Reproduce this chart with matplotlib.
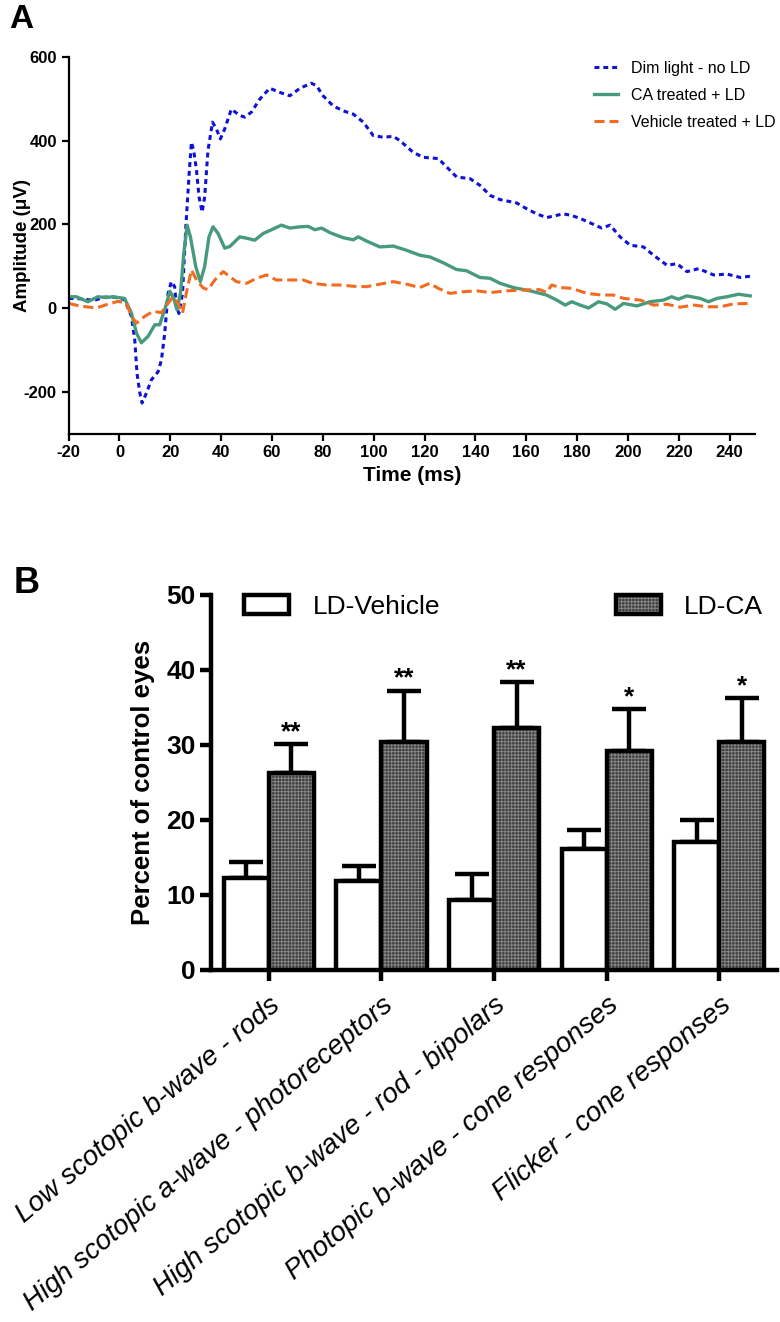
import numpy as np
import matplotlib.pyplot as plt

plt.rcParams['font.family'] = ['Liberation Sans', 'DejaVu Sans']
plt.rcParams['axes.unicode_minus'] = False
plt.rcParams['hatch.linewidth'] = 0.7

# panel A: ERG traces (time in ms, amplitude in uV)
t_dim = [-20, -15, -10, -6, -2, 2, 4.7, 6, 6.9, 8, 8.9, 10.6, 12.6, 15.2, 16.5, 17.8, 19.1, 20.4, 21.7,
         22.4, 23.4, 24.8, 26.1, 27.4, 28.3, 29.2, 30.3, 31.3, 32.5, 33.5, 34.8, 36.6, 38.1, 39.7, 41.4,
         44, 47.3, 49.3, 51.9, 55.2, 59.1, 63.1, 67, 71, 75.5, 77.5, 80.1, 84, 88, 92, 95.9, 99.8, 103.7,
         107.7, 110.3, 115.5, 119.5, 125.4, 128.7, 132.6, 137.9, 141.8, 145.8, 149.7, 156.2, 160.2, 164.1,
         168, 174.6, 177.9, 181.2, 186.4, 189.7, 193, 196.9, 200.9, 206.1, 210.1, 215.4, 219.3, 223.2,
         227.8, 233.7, 239, 244.2, 248.1]
a_dim = [23, 22, 18, 26, 26, 20, -20, -76, -156, -203, -227, -203, -171, -152, -124, -60, 35, 63, 51,
         3, -13, 35, 194, 321, 396, 376, 329, 265, 229, 265, 376, 444, 428, 404, 428,
         475, 460, 456, 468, 499, 525, 515, 507, 525, 537, 531, 507, 483, 471, 463, 444, 412, 408,
         410, 400, 372, 360, 357, 337, 313, 309, 293, 269, 259, 251, 237, 225,
         216, 225, 221, 214, 200, 191, 198, 170, 150, 146, 126, 102, 106, 87,
         94, 79, 81, 73, 76]

t_ca = [-20, -17, -12.4, -8.5, -5.2, -2.6, 2, 4.7, 6.7, 8.6, 11.2, 13.9, 15.8, 18.2, 19.8, 21.3, 22.6,
        24, 25.3, 26.6, 27.9, 30, 31.8, 33.5, 35.2, 36.8, 38.8, 41.4, 43.4, 47.3, 50.6, 53.2, 56.5,
        59.8, 63.7, 67, 71, 74.2, 76.9, 79.5, 82.8, 88, 92, 93.9, 97.2, 102.4, 107.7, 112.9, 118.2,
        122.1, 127.4, 132.6, 136.5, 141.8, 145.8, 149.7, 154.9, 161.5, 168, 172, 175.3, 177.9, 181.2,
        184.5, 188.4, 191.7, 195, 198.3, 203.5, 208.7, 214, 217.2, 219.8, 223.2, 228.4, 231.7, 235,
        239, 243.5, 248.1]
a_ca = [27, 27, 15, 27, 25, 27, 23, -12, -60, -83, -68, -40, -40, 4, 40, 24, -4,
        36, 131, 198, 170, 99, 63, 99, 170, 194, 178, 143, 147, 170, 166, 162, 178,
        187, 198, 191, 194, 195, 187, 191, 180, 168, 163, 170, 160, 146, 148, 138, 126,
        122, 108, 92, 89, 73, 71, 59, 49, 41, 31, 19, 7, 15, 7,
        0, 15, 10, -3, 11, 5, 15, 19, 27, 21, 29, 23, 15, 23,
        27, 33, 29]

t_veh = [-20, -15.7, -9.1, -5.2, -0.6, 2.7, 4.7, 6.7, 9.9, 13.2, 16.5, 19.1, 21.1, 23, 24.8, 26.3,
         28.3, 30.3, 32.9, 34.8, 37.5, 40.8, 43.4, 46, 50, 53.9, 57.8, 61.7, 67, 72.2, 76.1, 81.4,
         86.7, 92, 97.2, 102.4, 107.7, 112.9, 118.2, 122.1, 125.4, 130, 135.3, 140.5, 145.8, 152.3,
         158.9, 165.4, 168, 170, 173.3, 177.9, 183.8, 189.7, 194.3, 198.3, 204.8, 210.1, 215.4, 220.6,
         225.9, 231.1, 236.4, 241.6, 248.1]
a_veh = [11, 5, 0, 8, 16, 12, -20, -36, -20, -8, -11, 11, 27, 11, -12, 36,
         91, 67, 48, 44, 67, 87, 75, 63, 59, 71, 79, 67, 67, 67, 59, 55,
         55, 52, 51, 57, 63, 57, 49, 59, 47, 35, 39, 41, 37, 41,
         43, 44, 37, 55, 49, 47, 35, 31, 31, 23, 19, 7, 9, 2,
         7, 3, 3, 10, 11]

# panel B: percent of control eyes
categories = ['Low scotopic b-wave - rods', 'High scotopic a-wave - photoreceptors',
              'High scotopic b-wave - rod - bipolars', 'Photopic b-wave - cone responses',
              'Flicker - cone responses']
vehicle = [12.3, 11.8, 9.3, 16.1, 17.0]
vehicle_err = [2.1, 2.1, 3.5, 2.6, 3.0]
ca = [26.2, 30.4, 32.2, 29.1, 30.4]
ca_err = [3.9, 6.8, 6.1, 5.6, 5.8]
stars = ['**', '**', '**', '*', '*']

blue = '#0d12d6'
green = '#479a7c'
orange = '#f26b21'

fig = plt.figure(figsize=(7.8, 13.22), dpi=100)

# ---- panel A ----
ax = fig.add_axes([0.088, 0.672, 0.880, 0.285])
ax.plot(t_dim, a_dim, color=blue, lw=2.2, linestyle=(0, (1.6, 1.3)), label='Dim light - no LD')
ax.plot(t_ca, a_ca, color=green, lw=2.4, label='CA treated + LD')
ax.plot(t_veh, a_veh, color=orange, lw=2.2, linestyle=(0, (3.3, 1.6)), label='Vehicle treated + LD')
ax.set_xlim(-20, 250)
ax.set_ylim(-300, 600)
ax.set_xticks(np.arange(-20, 241, 20))
ax.set_yticks([-200, 0, 200, 400, 600])
ax.spines['top'].set_visible(False)
ax.spines['right'].set_visible(False)
for s in ['left', 'bottom']:
    ax.spines[s].set_linewidth(1.6)
ax.tick_params(width=1.6, length=5, labelsize=12)
for lab in ax.get_xticklabels() + ax.get_yticklabels():
    lab.set_fontweight('bold')
ax.set_xlabel('Time (ms)', fontsize=15, fontweight='bold', labelpad=4)
ax.set_ylabel('Amplitude (\u03bcV)', fontsize=13.5, fontweight='bold')
ax.yaxis.set_label_coords(-0.055, 0.5)
ax.legend(loc='upper left', bbox_to_anchor=(0.762, 0.954), bbox_transform=fig.transFigure,
          frameon=False, fontsize=11.5, handlelength=1.5, handletextpad=0.8, labelspacing=0.75,
          borderaxespad=0, borderpad=0)
fig.text(0.012, 0.997, 'A', fontsize=24, fontweight='bold', va='top')

# ---- panel B ----
bx = fig.add_axes([0.271, 0.2663, 0.725, 0.284])
x = np.arange(len(categories))
w = 0.4
b1 = bx.bar(x - w / 2, vehicle, w, color='white', edgecolor='black', linewidth=3.2, zorder=3)
bx.errorbar(x - w / 2, vehicle, yerr=[np.zeros(5), vehicle_err], fmt='none', ecolor='black',
            elinewidth=3.2, capsize=12, capthick=3.2, zorder=2)
b2 = bx.bar(x + w / 2, ca, w, color='#3c3c3c', edgecolor='#858585', linewidth=0, hatch='+++++', zorder=3)
b3 = bx.bar(x + w / 2, ca, w, fill=False, edgecolor='black', linewidth=3.2, zorder=4)
bx.errorbar(x + w / 2, ca, yerr=[np.zeros(5), ca_err], fmt='none', ecolor='black',
            elinewidth=3.2, capsize=12, capthick=3.2, zorder=2)
for i in range(len(categories)):
    bx.text(x[i] + w / 2, ca[i] + ca_err[i] + 1.6, stars[i], ha='center', va='center',
            fontsize=19, fontweight='bold')

bx.set_xlim(-0.51, 4.51)
bx.set_ylim(0, 50)
bx.set_yticks([0, 10, 20, 30, 40, 50])
bx.set_xticks(x)
bx.set_xticklabels(categories, rotation=40, ha='right', rotation_mode='anchor',
                   fontsize=20, fontstyle='italic')
bx.spines['top'].set_visible(False)
bx.spines['right'].set_visible(False)
for s in ['left', 'bottom']:
    bx.spines[s].set_linewidth(3.2)
bx.tick_params(axis='y', width=3.2, length=8, labelsize=19)
bx.tick_params(axis='x', width=3.2, length=8, pad=8)
for lab in bx.get_yticklabels():
    lab.set_fontweight('bold')
bx.set_ylabel('Percent of control eyes', fontsize=18.5, fontweight='bold', labelpad=8)

# two separate legends so each entry sits where it does in the figure
leg_kw = dict(loc='upper left', frameon=False, fontsize=19, handlelength=1.7, handleheight=0.7,
              handletextpad=0.9, borderaxespad=0, borderpad=0)
leg1 = bx.legend([b1], ['LD-Vehicle'], bbox_to_anchor=(0.058, 1.0), **leg_kw)
bx.add_artist(leg1)
bx.legend([(b2, b3)], ['LD-CA'], bbox_to_anchor=(0.715, 1.0), **leg_kw)
fig.text(0.018, 0.572, 'B', fontsize=26, fontweight='bold', va='top')

fig.savefig('out.png', dpi=100)
